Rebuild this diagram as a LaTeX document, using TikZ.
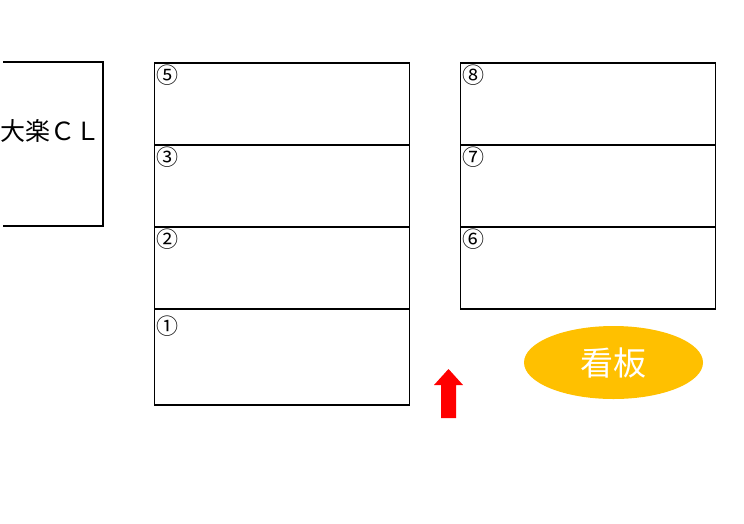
\documentclass[tikz,border=0pt]{standalone}
\usepackage{fontspec}
\setmainfont{Noto Sans CJK JP}
\newfontfamily\cjk{Noto Sans CJK JP}
\usetikzlibrary{shapes.geometric,shapes.arrows}
\definecolor{signyellow}{HTML}{FFC000}
\begin{document}
\begin{tikzpicture}[x=1pt,y=-1pt,
  lot/.style={draw=black,line width=1.8pt},
  num/.style={anchor=north west,inner sep=0pt,font=\cjk\fontsize{22}{22}\selectfont},
  ]
\useasboundingbox (0,0) rectangle (744,523);
% left building
\draw[lot] (3,62) -- (103,62) -- (103,226) -- (3,226);
\node[inner sep=0pt,font=\cjk\fontsize{25}{25}\selectfont] (cl) at (51,131) {大楽ＣＬ};
% middle column
\node[lot,minimum width=255pt,minimum height=82pt,anchor=north west,inner sep=0pt] (m5) at (153.5,62) {};
\node[lot,minimum width=255pt,minimum height=82pt,anchor=north west,inner sep=0pt] (m3) at (153.5,144) {};
\node[lot,minimum width=255pt,minimum height=82pt,anchor=north west,inner sep=0pt] (m2) at (153.5,226) {};
\node[lot,minimum width=255pt,minimum height=96pt,anchor=north west,inner sep=0pt] (m1) at (153.5,308) {};
\node[num] (n5) at (156.5,65) {⑤};
\node[num] (n3) at (156.5,147) {③};
\node[num] (n2) at (156.5,229) {②};
\node[num] (n1) at (156.5,316) {①};
% right column
\node[lot,minimum width=255pt,minimum height=82pt,anchor=north west,inner sep=0pt] (r8) at (459.5,62) {};
\node[lot,minimum width=255pt,minimum height=82pt,anchor=north west,inner sep=0pt] (r7) at (459.5,144) {};
\node[lot,minimum width=255pt,minimum height=82pt,anchor=north west,inner sep=0pt] (r6) at (459.5,226) {};
\node[num] (n8) at (462.5,65) {⑧};
\node[num] (n7) at (462.5,147) {⑦};
\node[num] (n6) at (462.5,229) {⑥};
% sign
\node[ellipse,fill=signyellow,minimum width=179pt,minimum height=73pt,inner sep=0pt,
  text=white,font=\cjk\fontsize{33}{33}\selectfont] (sign) at (613.5,362.5) {看板};
% arrow
\fill[red] (441,418) -- (456,418) -- (456,385) -- (463,385) -- (448.5,369) -- (434,385) -- (441,385) -- cycle;
\end{tikzpicture}
\end{document}
